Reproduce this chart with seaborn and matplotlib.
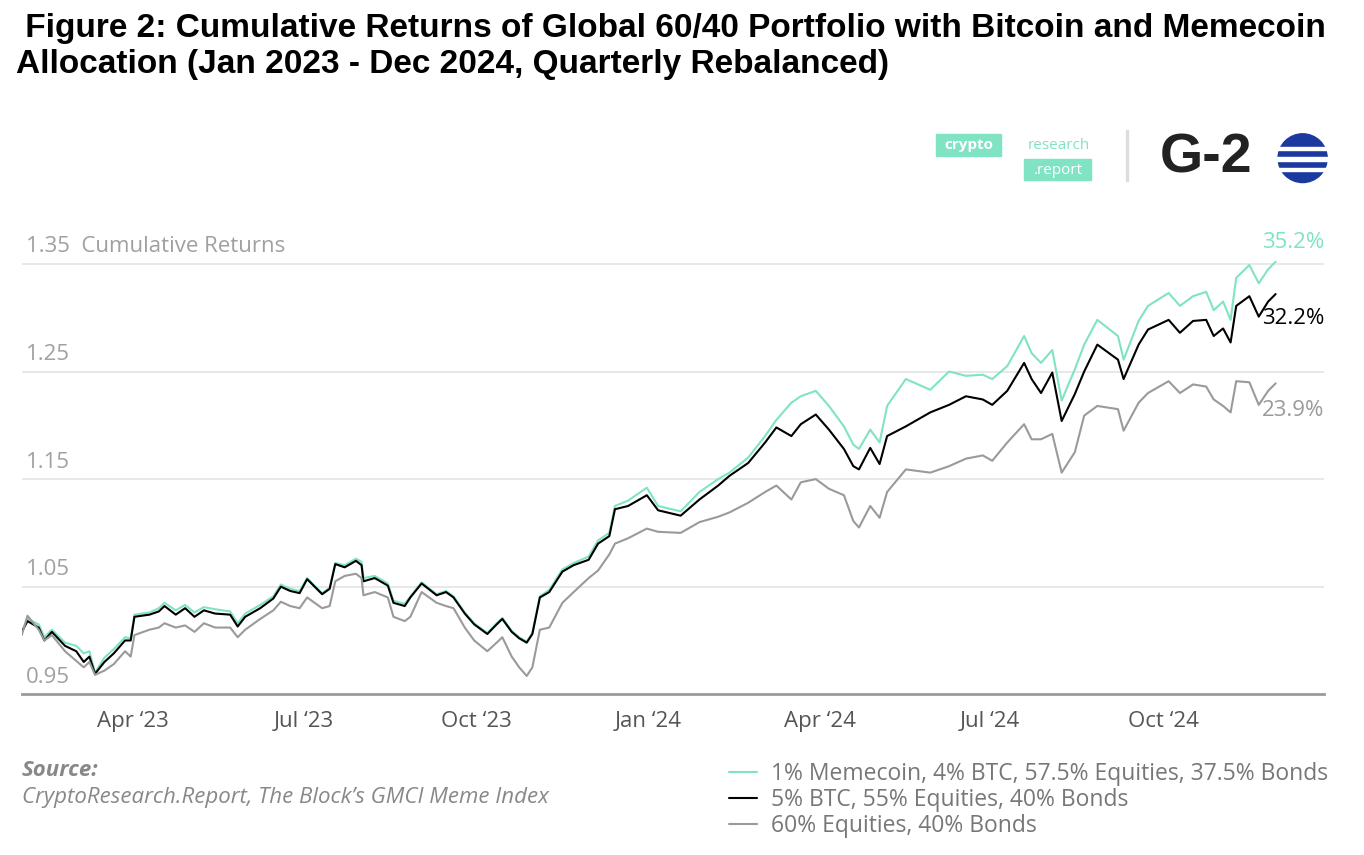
import pandas as pd
import matplotlib.pyplot as plt
from matplotlib.patches import Ellipse, FancyBboxPatch, Rectangle
import seaborn as sns

# --- Data ---
start = pd.Timestamp("2023-02-01")
days = [0, 3, 9, 12, 16, 23, 29, 33, 36, 39, 44, 49, 55, 58, 60, 68, 73, 76, 82, 87,
        92, 97, 103, 111, 115, 119, 127, 134, 138, 143, 148, 152, 156, 160, 164, 167, 172, 178, 181, 182,
        188, 195, 198, 204, 207, 213, 221, 226, 230, 236, 241, 248, 253, 256, 261, 265, 269, 272, 276, 281,
        288, 294, 302, 307, 313, 316, 323, 333, 339, 351, 361, 371, 377, 387, 396, 402, 410, 415, 423, 430,
        438, 443, 446, 452, 457, 461, 471, 484, 494, 503, 512, 517, 525, 534, 538, 543, 549, 554, 561, 566,
        573, 584, 587, 595, 600, 611, 617, 624, 631, 635, 640, 644, 647, 654, 659, 664, 668]

btc = [1.008, 1.018, 1.012, 1.0, 1.008, 0.995, 0.99, 0.98, 0.985, 0.969, 0.98, 0.988, 1.0, 1.0, 1.022, 1.024, 1.027, 1.032, 1.024, 1.03,
       1.022, 1.028, 1.025, 1.024, 1.013, 1.022, 1.03, 1.039, 1.05, 1.046, 1.044, 1.057, 1.05, 1.043, 1.048, 1.071, 1.068, 1.074, 1.07, 1.055,
       1.058, 1.051, 1.035, 1.032, 1.04, 1.053, 1.042, 1.045, 1.04, 1.025, 1.015, 1.006, 1.015, 1.02, 1.008, 1.002, 0.998, 1.006, 1.04, 1.045,
       1.064, 1.07, 1.075, 1.09, 1.097, 1.122, 1.125, 1.135, 1.121, 1.116, 1.131, 1.144, 1.153, 1.165, 1.184, 1.198, 1.19, 1.201, 1.21, 1.196,
       1.178, 1.162, 1.159, 1.179, 1.164, 1.19, 1.199, 1.212, 1.219, 1.227, 1.224, 1.219, 1.232, 1.258, 1.243, 1.23, 1.249, 1.204, 1.229, 1.25,
       1.275, 1.261, 1.243, 1.275, 1.289, 1.298, 1.286, 1.297, 1.298, 1.283, 1.29, 1.277, 1.311, 1.32, 1.301, 1.315, 1.322]

base = [1.005, 1.023, 1.01, 1.0, 1.005, 0.99, 0.981, 0.975, 0.98, 0.968, 0.972, 0.978, 0.99, 0.985, 1.005, 1.01, 1.012, 1.016, 1.012, 1.014,
        1.008, 1.016, 1.012, 1.012, 1.003, 1.01, 1.02, 1.028, 1.036, 1.032, 1.03, 1.04, 1.035, 1.03, 1.032, 1.055, 1.06, 1.062, 1.058, 1.042,
        1.045, 1.04, 1.022, 1.018, 1.022, 1.045, 1.035, 1.032, 1.03, 1.012, 1.0, 0.99, 0.998, 1.003, 0.985, 0.975, 0.967, 0.975, 1.01, 1.012,
        1.035, 1.045, 1.058, 1.065, 1.08, 1.09, 1.095, 1.104, 1.101, 1.1, 1.11, 1.115, 1.119, 1.128, 1.138, 1.144, 1.131, 1.147, 1.15, 1.141,
        1.135, 1.111, 1.105, 1.125, 1.114, 1.138, 1.159, 1.156, 1.162, 1.169, 1.172, 1.167, 1.184, 1.201, 1.187, 1.187, 1.192, 1.156, 1.175, 1.209,
        1.218, 1.215, 1.195, 1.221, 1.23, 1.241, 1.23, 1.238, 1.236, 1.224, 1.218, 1.212, 1.241, 1.24, 1.219, 1.232, 1.239]

meme = [1.008, 1.02, 1.015, 1.003, 1.01, 0.998, 0.995, 0.988, 0.99, 0.97, 0.984, 0.992, 1.003, 1.002, 1.024, 1.026, 1.03, 1.035, 1.028, 1.033,
        1.026, 1.031, 1.029, 1.027, 1.016, 1.025, 1.033, 1.041, 1.052, 1.048, 1.046, 1.058, 1.051, 1.044, 1.049, 1.072, 1.07, 1.076, 1.073, 1.058,
        1.06, 1.053, 1.037, 1.034, 1.041, 1.054, 1.043, 1.046, 1.041, 1.026, 1.016, 1.007, 1.016, 1.021, 1.009, 1.003, 0.999, 1.007, 1.041, 1.047,
        1.066, 1.072, 1.078, 1.093, 1.1, 1.125, 1.13, 1.142, 1.125, 1.12, 1.138, 1.15, 1.156, 1.17, 1.19, 1.205, 1.221, 1.227, 1.232, 1.218,
        1.199, 1.182, 1.178, 1.196, 1.184, 1.218, 1.243, 1.233, 1.25, 1.246, 1.247, 1.243, 1.255, 1.283, 1.267, 1.258, 1.27, 1.223, 1.252, 1.275,
        1.298, 1.283, 1.261, 1.297, 1.311, 1.323, 1.311, 1.32, 1.324, 1.307, 1.315, 1.298, 1.337, 1.349, 1.332, 1.345, 1.352]

labels = ["1% Memecoin, 4% BTC, 57.5% Equities, 37.5% Bonds",
          "5% BTC, 55% Equities, 40% Bonds",
          "60% Equities, 40% Bonds"]
colors = ["#7fe3c4", "#000000", "#9a9a9a"]
end_labels = ["35.2%", "32.2%", "23.9%"]
end_label_y = [1.370, 1.299, 1.214]
y_ticks = [0.95, 1.05, 1.15, 1.25, 1.35]
x_ticks = ["2023-04-01", "2023-07-01", "2023-10-01", "2024-01-01", "2024-04-01", "2024-07-01", "2024-10-01"]
x_tick_labels = ["Apr \u201823", "Jul \u201823", "Oct \u201823", "Jan \u201824", "Apr \u201824", "Jul \u201824", "Oct \u201824"]

dates = start + pd.to_timedelta(days, unit="D")
df = pd.concat([
    pd.DataFrame({"date": dates, "value": meme, "series": labels[0]}),
    pd.DataFrame({"date": dates, "value": btc, "series": labels[1]}),
    pd.DataFrame({"date": dates, "value": base, "series": labels[2]}),
])

# --- Figure ---
sns.set_style("white")
plt.rcParams["font.family"] = ["Open Sans", "DejaVu Sans"]
fig = plt.figure(figsize=(13.64, 8.55), dpi=100)
ax = fig.add_axes([0.016, 0.188, 0.955, 0.531])

sns.lineplot(data=df, x="date", y="value", hue="series", palette=colors,
             linewidth=1.5, ax=ax, legend=False)
ax.set_ylim(0.95, 1.372)
ax.set_xlim(start, pd.Timestamp("2024-12-26"))
ax.set_xlabel("")
ax.set_ylabel("")
ax.set_yticks([])
for v in y_ticks[1:]:
    ax.axhline(v, color="#e6e6e6", lw=1.3, zorder=0)
for v in y_ticks:
    lab = f"{v:.2f}"
    if v == 1.35:
        lab += "  Cumulative Returns"
    ax.text(0.003, v + 0.006, lab, transform=ax.get_yaxis_transform(),
            color="#a0a0a0", fontsize=16, va="bottom", ha="left")
for s in ["top", "right", "left"]:
    ax.spines[s].set_visible(False)
ax.spines["bottom"].set_color("#9a9a9a")
ax.spines["bottom"].set_linewidth(2)
ax.set_xticks(pd.to_datetime(x_ticks))
ax.set_xticklabels(x_tick_labels, color="#555555", fontsize=16)
ax.tick_params(axis="x", length=0, pad=12)

# end labels
for lab, col, yv in zip(end_labels, colors, end_label_y):
    ax.text(1.0, yv, lab, transform=ax.get_yaxis_transform(),
            color=col, fontsize=16, ha="right", va="center")

# title
fig.text(0.012, 0.985, " Figure 2: Cumulative Returns of Global 60/40 Portfolio with Bitcoin and Memecoin\nAllocation (Jan 2023 - Dec 2024, Quarterly Rebalanced)",
         fontsize=24, fontweight="bold", family="Liberation Sans", color="black",
         va="top", ha="left", linespacing=1.2)

# logo
green = "#7fe3c4"
fig.patches.append(FancyBboxPatch((0.686, 0.818), 0.048, 0.025, boxstyle="square,pad=0", transform=fig.transFigure, color=green))
fig.patches.append(FancyBboxPatch((0.751, 0.789), 0.049, 0.025, boxstyle="square,pad=0", transform=fig.transFigure, color=green))
fig.text(0.71, 0.830, "crypto", color="white", fontsize=11, fontweight="bold", ha="center", va="center")
fig.text(0.776, 0.830, "research", color=green, fontsize=11, ha="center", va="center")
fig.text(0.776, 0.801, ".report", color="white", fontsize=11, ha="center", va="center")
fig.patches.append(Rectangle((0.690, 0.826), 0.007, 0.009, transform=fig.transFigure, color=green))
fig.patches.append(Rectangle((0.8255, 0.788), 0.0012, 0.06, transform=fig.transFigure, color="#dddddd"))
fig.text(0.85, 0.815, "G-2", fontsize=40, fontweight="bold", family="Liberation Sans", color="#222222", ha="left", va="center")
fig.patches.append(Ellipse((0.955, 0.815), 0.036, 0.057, transform=fig.transFigure, color="#1a3aa0"))
for i in range(3):
    fig.patches.append(Rectangle((0.935, 0.824 - 0.012 * i), 0.04, 0.004, transform=fig.transFigure, color="white"))

# source
fig.text(0.016, 0.092, "Source:", fontsize=16, fontstyle="italic", fontweight="bold", color="#888888")
fig.text(0.016, 0.061, "CryptoResearch.Report, The Block\u2019s GMCI Meme Index", fontsize=16, fontstyle="italic", color="#888888")

# legend
handles = [plt.Line2D([], [], color=c, lw=1.5) for c in colors]
fig.legend(handles, labels, loc="upper left", bbox_to_anchor=(0.528, 0.12), frameon=False,
           fontsize=16.5, labelcolor="#777777", handlelength=1.2, handletextpad=0.6,
           labelspacing=0.1, borderaxespad=0)

fig.savefig("out.png", dpi=100)
